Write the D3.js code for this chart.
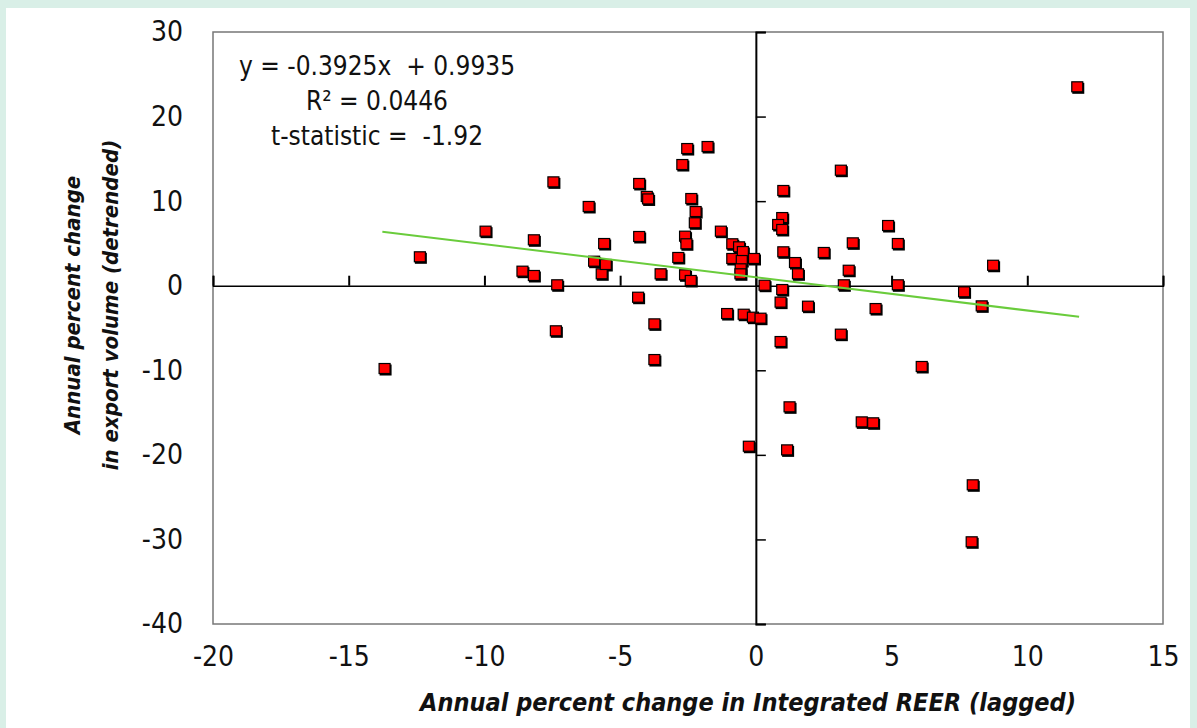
<!DOCTYPE html>
<meta charset="utf-8">
<head>
<title>Export volume vs integrated REER</title>
<style>
  body { margin: 0; background: #d9efe7; }
  .tick-label { font: 28px "DejaVu Sans Condensed", sans-serif; font-stretch: condensed; fill: #111; }
  .title { font: italic bold 25px "DejaVu Sans Condensed", sans-serif; font-stretch: condensed; fill: #111; }
  .ytitle { font: italic bold 22px "DejaVu Sans Condensed", sans-serif; font-stretch: condensed; fill: #111; }
  .eq { font: 26px "DejaVu Sans Condensed", sans-serif; font-stretch: condensed; fill: #111; white-space: pre; }
</style>
</head>
<body>
<svg width="1197" height="728"></svg>
<script src="https://cdn.jsdelivr.net/npm/d3@7"></script>
<script>

// annual % change in integrated REER (lagged)
var reerChange = [
  -13.66, -12.36, -9.94, -8.58, -8.16, -8.16, -7.44, -7.30, -7.35, -6.14,
  -5.94, -5.66, -5.57, -5.51, -4.28, -4.32, -4.28, -4.00, -3.95, -3.72,
  -3.72, -3.49, -2.84, -2.69, -2.51, -2.59, -2.54, -2.59, -2.38, -2.36,
  -2.20, -2.23, -1.76, -1.27, -1.04, -0.85, -0.85, -0.60, -0.46, -0.50,
  -0.54, -0.55, -0.43, -0.24, -0.09, -0.05, 0.19, 0.34, 1.03, 0.99,
  0.84, 0.99, 1.03, 1.46, 1.57, 0.99, 0.93, 1.94, 2.52, 3.59,
  4.89, 5.25, 3.44, 3.26, 5.25, 4.43, 3.15, 7.69, 8.76, 8.34,
  11.86, 0.93, 3.15, 6.13, 1.26, 3.92, 4.34, 1.17, 8.01, 7.97
];
// annual % change in export volume (detrended)
var exportChange = [
  -9.85, 3.36, 6.39, 1.66, 5.37, 1.15, 12.22, 0.05, -5.39, 9.31,
  2.84, 1.35, 4.93, 2.45, 12.03, -1.42, 5.76, 10.5, 10.2, -4.57,
  -8.79, 1.35, 3.28, 14.27, 16.16, 5.8, 4.9, 1.23, 0.56, 10.25,
  8.71, 7.38, 16.4, 6.39, -3.35, 4.9, 3.16, 4.54, 3.98, 2.92,
  1.94, 1.35, -3.43, -19.04, -3.78, 3.16, -3.9, 0.0, 11.2, 8.0,
  7.18, 6.59, 3.95, 2.68, 1.35, -0.51, -2.0, -2.48, 3.87, 5.01,
  7.06, 4.93, 1.77, 0.05, 0.05, -2.76, 13.6, -0.78, 2.36, -2.44,
  23.46, -6.66, -5.79, -9.61, -14.38, -16.16, -16.27, -19.47, -23.6, -30.34
];

// fitted regression
var slope = -0.3925, intercept = 0.9935;
var eqLines = ["y = -0.3925x  + 0.9935", "R\u00b2 = 0.0446", "t-statistic =  -1.92"];

var xTicks = [-20, -15, -10, -5, 0, 5, 10, 15];
var yTicks = [30, 20, 10, 0, -10, -20, -30, -40];

var svg = d3.select("svg");

// white panel on the mint background
svg.append("rect").attr("x", 6).attr("y", 8).attr("width", 1184).attr("height", 720).attr("fill", "#fff");

var x = d3.scaleLinear().domain([-20, 15]).range([213, 1163]);
var y = d3.scaleLinear().domain([-40, 30]).range([624, 32]);

// plot box
svg.append("rect")
  .attr("x", x(-20)).attr("y", y(30))
  .attr("width", x(15) - x(-20)).attr("height", y(-40) - y(30))
  .attr("fill", "none").attr("stroke", "#777").attr("stroke-width", 1.5);

// tick labels on the box edges (plain hyphen, like the original)
var xLab = svg.append("g").attr("transform", "translate(0," + y(-40) + ")")
  .call(d3.axisBottom(x).tickValues(xTicks).tickSize(0).tickPadding(20).tickFormat(String));
var yLab = svg.append("g").attr("transform", "translate(" + (x(-20) - 30) + ",0)")
  .call(d3.axisLeft(y).tickValues(yTicks).tickSize(0).tickPadding(0).tickFormat(String));
[xLab, yLab].forEach(function(g) {
  g.select(".domain").remove();
  g.selectAll("text").attr("class", "tick-label").attr("fill", null);
});
xLab.selectAll("text").attr("dy", "0.8em");

// zero axes with their ticks
var xZero = svg.append("g").attr("transform", "translate(0," + y(0) + ")")
  .call(d3.axisTop(x).tickValues(xTicks).tickSize(10).tickFormat(""));
xZero.select(".domain").attr("stroke", "#000").attr("stroke-width", 1.5);
xZero.selectAll(".tick line").attr("stroke", "#000").attr("stroke-width", 2);

var yZero = svg.append("g").attr("transform", "translate(" + x(0) + ",0)")
  .call(d3.axisRight(y).tickValues(yTicks).tickSize(10).tickFormat(""));
yZero.select(".domain").attr("stroke", "#000").attr("stroke-width", 2);
yZero.selectAll(".tick line").attr("stroke", "#000").attr("stroke-width", 1.5);

// data points: black shadow then red square
var pts = d3.zip(reerChange, exportChange);
svg.append("g").selectAll("rect").data(pts).enter().append("rect")
  .attr("x", function(d) { return x(d[0]) - 5.5; })
  .attr("y", function(d) { return y(d[1]) - 4.5; })
  .attr("width", 12).attr("height", 11)
  .attr("fill", "#000");
svg.append("g").selectAll("rect").data(pts).enter().append("rect")
  .attr("x", function(d) { return x(d[0]) - 6; })
  .attr("y", function(d) { return y(d[1]) - 5.5; })
  .attr("width", 11).attr("height", 10)
  .attr("fill", "#f00").attr("stroke", "#000").attr("stroke-width", 1.2);

// trend line across the data range
var ext = d3.extent(reerChange);
svg.append("line")
  .attr("x1", x(ext[0] - 0.1)).attr("y1", y(slope * (ext[0] - 0.1) + intercept))
  .attr("x2", x(ext[1] + 0.05)).attr("y2", y(slope * (ext[1] + 0.05) + intercept))
  .attr("stroke", "#6acc3c").attr("stroke-width", 2);

// regression text
svg.append("g").selectAll("text").data(eqLines).enter().append("text")
  .attr("class", "eq")
  .attr("x", 377).attr("text-anchor", "middle")
  .attr("y", function(d, i) { return 75 + i * 35; })
  .text(function(d) { return d; });

// axis titles
svg.append("text").attr("class", "title")
  .attr("x", 748).attr("y", 711).attr("text-anchor", "middle")
  .text("Annual percent change in Integrated REER (lagged)");
svg.append("g").attr("transform", "translate(0,305) rotate(-90)")
  .selectAll("text").data(["Annual percent change", "in export volume (detrended)"]).enter().append("text")
  .attr("class", "ytitle").attr("text-anchor", "middle")
  .attr("x", 0).attr("y", function(d, i) { return 80 + i * 38; })
  .text(function(d) { return d; });

</script>
</body>
